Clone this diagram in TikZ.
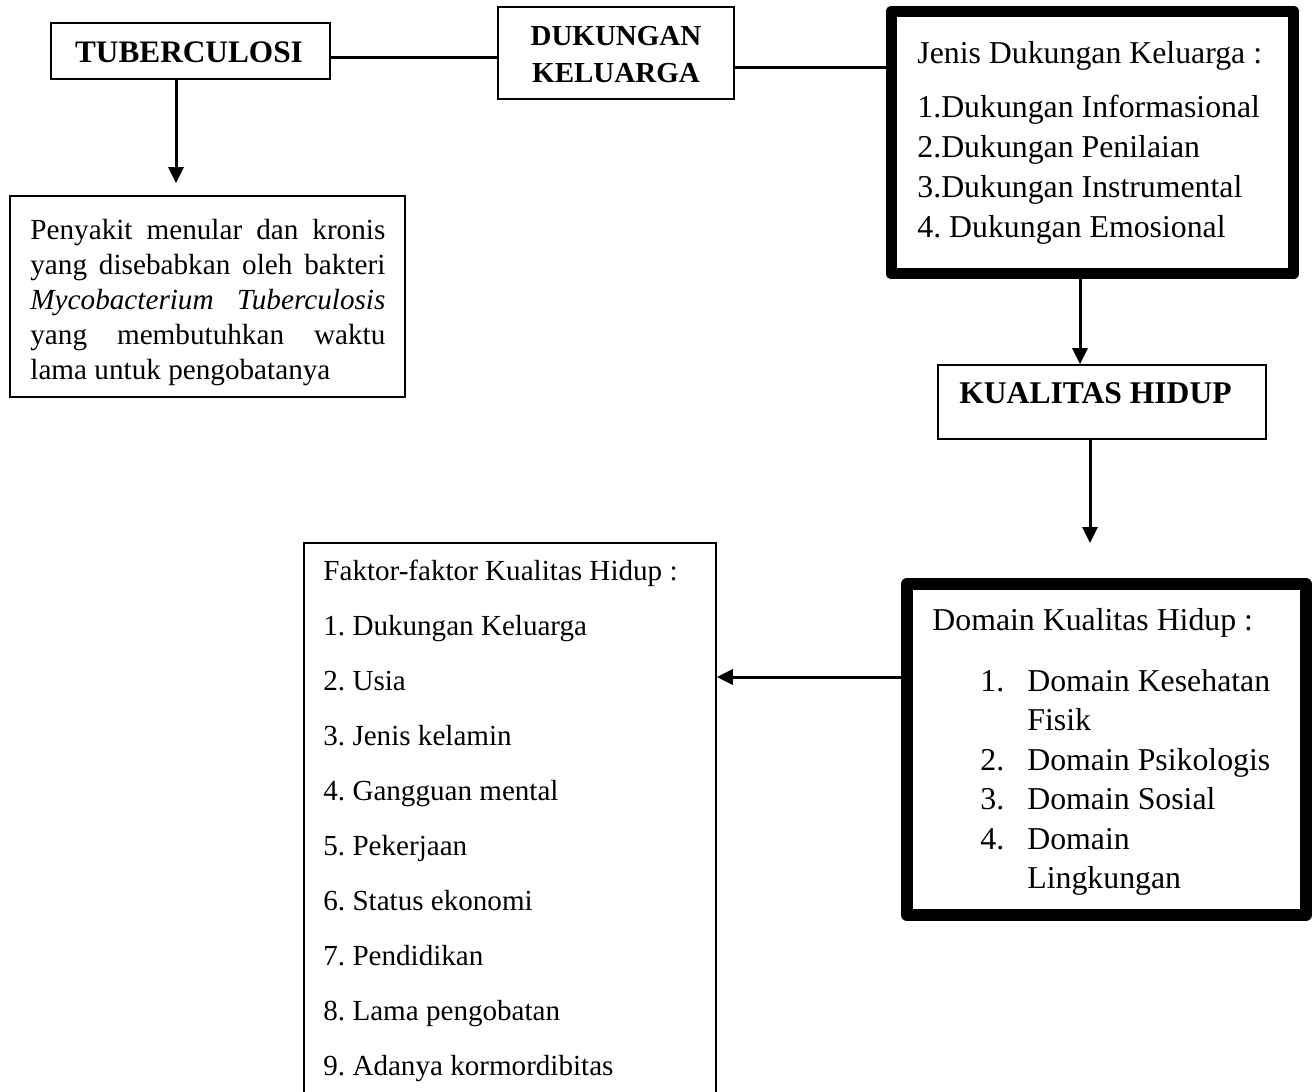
\documentclass[tikz,border=0pt]{standalone}
\usepackage{fontspec}
\setmainfont{Liberation Serif}
\frenchspacing
\usetikzlibrary{arrows.meta,calc}
\begin{document}
\begin{tikzpicture}[x=0.5pt,y=-0.5pt,
  thinbox/.style={draw,line width=0.8pt,inner sep=0pt},
  thickbox/.style={draw,line width=5.9pt,line join=round,inner sep=0pt},
  conn/.style={line width=1.5pt},
  arr/.style={line width=1.5pt,-{Triangle[length=8pt,width=7.5pt]}},
  txt/.style={inner sep=0pt,anchor=base west,align=left,execute at begin node=\frenchspacing},
  bodyA/.style={font=\fontsize{15.9}{20}\selectfont},
  bodyB/.style={font=\fontsize{14.55}{27.5}\selectfont},
  ttl/.style={inner sep=0pt,anchor=base,align=center,font=\bfseries}
]
\useasboundingbox (0,0) rectangle (1312,1092);
\clip (0,0) rectangle (1312,1092);
\fill[white] (0,0) rectangle (1312,1092);

% boxes
\node[thinbox,minimum width=139.5pt,minimum height=28pt] (tb) at (190.5,51) {};
\node[thinbox,minimum width=118pt,minimum height=46pt] (dk) at (616,53) {};
\node[thickbox,minimum width=201pt,minimum height=131pt] (jenis) at (1092.5,142.5) {};
\node[thinbox,minimum width=197.5pt,minimum height=100.5pt] (desc) at (207.5,296.5) {};
\node[thinbox,minimum width=164pt,minimum height=37pt] (kh) at (1102,402) {};
\node[thickbox,minimum width=199.5pt,minimum height=165.5pt] (dom) at (1106.5,749.5) {};
\node[thinbox,minimum width=206pt,minimum height=330pt] (fak) at (510,873) {};

% titles
\node[ttl,font=\fontsize{15.65}{18}\selectfont\bfseries] (tbt) at (189,62) {TUBERCULOSI};
\node[ttl,font=\fontsize{14.5}{18.5}\selectfont\bfseries] (dkt) at (616,82) {DUKUNGAN\\KELUARGA};
\node[ttl,font=\fontsize{15.8}{18}\selectfont\bfseries] (kht) at (1095.5,403) {KUALITAS HIDUP};

% jenis text (anchor = last baseline)
\node[txt,bodyA] (jt) at (917,237) {Jenis Dukungan Keluarga :\\[7pt]1.Dukungan Informasional\\2.Dukungan Penilaian\\3.Dukungan Instrumental\\4. Dukungan Emosional};

% description text (anchor = first baseline)
\node[inner sep=0pt,anchor=base west,text width=177.5pt,align=justify,
  font=\fontsize{14.6}{17.5}\selectfont] (dt) at (30,239)
  {Penyakit menular dan kronis\linebreak yang disebabkan oleh bakteri\linebreak \textit{Mycobacterium Tuberculosis}\linebreak yang membutuhkan waktu\linebreak lama untuk pengobatanya};

% domain text
\node[txt,bodyA] (domh) at (932,630) {Domain Kualitas Hidup :};
\node[txt,font=\fontsize{15.9}{19.75}\selectfont] (doml) at (980,888.5)
  {\makebox[23.5pt][l]{1.}Domain Kesehatan\\\hspace*{23.5pt}Fisik\\
   \makebox[23.5pt][l]{2.}Domain Psikologis\\
   \makebox[23.5pt][l]{3.}Domain Sosial\\
   \makebox[23.5pt][l]{4.}Domain\\\hspace*{23.5pt}Lingkungan};

% factors text
\node[txt,bodyB] (ft) at (323,1075) {Faktor-faktor Kualitas Hidup :\\1. Dukungan Keluarga\\2. Usia\\3. Jenis kelamin\\4. Gangguan mental\\5. Pekerjaan\\6. Status ekonomi\\7. Pendidikan\\8. Lama pengobatan\\9. Adanya kormordibitas};

% helper coordinates
\coordinate (y1) at (0,57);
\coordinate (y2) at (0,67);
\coordinate (x1) at (176,0);
\coordinate (x2) at (1080,0);
\coordinate (x3) at (1090,0);
\coordinate (y3) at (0,677);
\coordinate (end1) at (1090,543);

% connectors
\draw[conn] (tb.east |- y1) -- (dk.west |- y1);
\draw[conn] (dk.east |- y2) -- (jenis.west |- y2);
\draw[arr,shorten >=6pt] (tb.south -| x1) -- (desc.north -| x1);
\draw[arr] (jenis.south -| x2) -- (kh.north -| x2);
\draw[arr] (kh.south -| x3) -- (end1);
\draw[arr] (dom.west |- y3) -- (fak.east |- y3);
\end{tikzpicture}
\end{document}
